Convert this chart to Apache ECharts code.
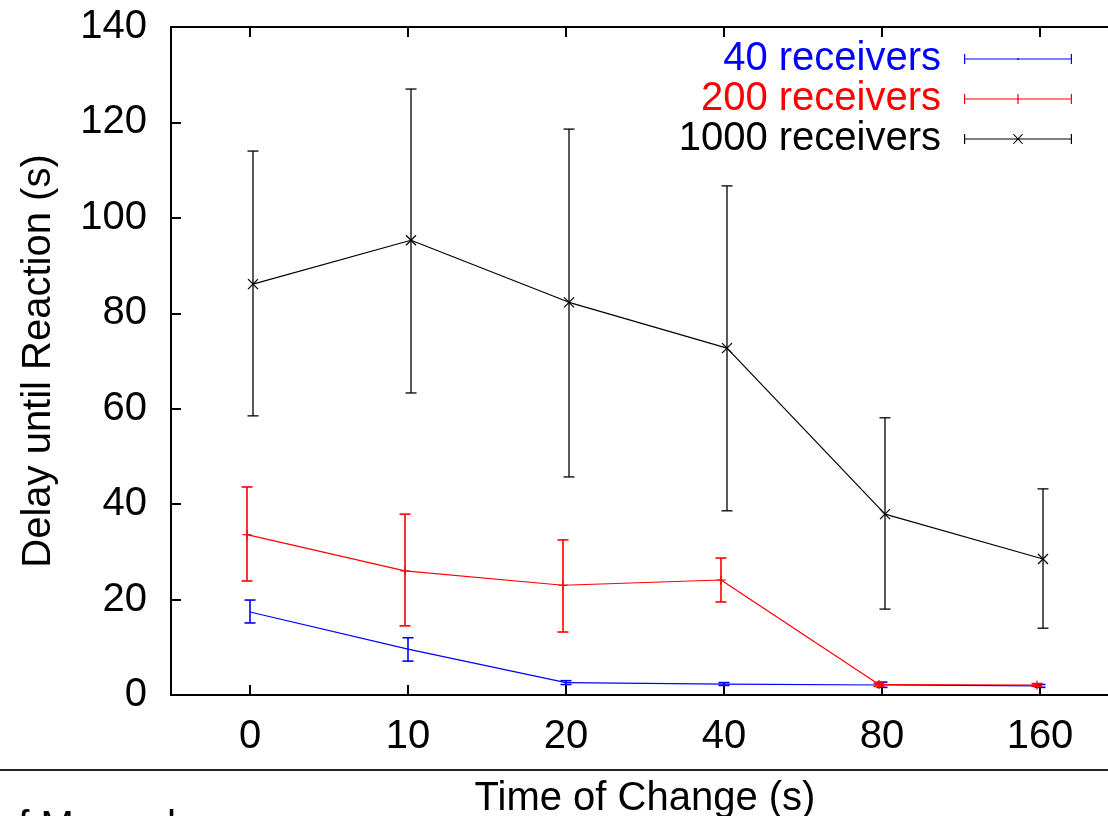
<!DOCTYPE html>
<html>
<head>
<meta charset="utf-8">
<script src="https://cdn.jsdelivr.net/npm/echarts@6/dist/echarts.min.js"></script>
<style>
html,body{margin:0;padding:0;background:#fff}
#main{width:1108px;height:816px}
</style>
</head>
<body>
<div id="main"></div>
<script>
// x categories (Time of Change) and y ticks
var categories = ['0', '10', '20', '40', '80', '160'];
var yTicks = [0, 20, 40, 60, 80, 100, 120, 140];

// 40 receivers: mean / lower / upper
var mean40 = [17.4, 9.6, 2.6, 2.3, 2.1, 1.9];
var low40 = [15.1, 7.1, 2.2, 2.0, 1.6, 1.6];
var high40 = [19.9, 12.0, 3.0, 2.6, 2.7, 2.2];
// 200 receivers
var mean200 = [33.6, 26.0, 23.0, 24.1, 2.2, 2.1];
var low200 = [23.9, 14.5, 13.2, 19.5, 1.8, 1.8];
var high200 = [43.6, 37.9, 32.5, 28.7, 2.5, 2.4];
// 1000 receivers
var mean1000 = [86.1, 95.3, 82.3, 72.7, 37.9, 28.5];
var low1000 = [58.5, 63.3, 45.7, 38.6, 18.0, 14.0];
var high1000 = [114.0, 127.0, 118.6, 106.7, 58.1, 43.2];

var FONT = '"Liberation Sans", Arial, Helvetica, sans-serif';

var myChart = echarts.init(document.getElementById('main'));

function makeRender(mean, low, high, color, offset, marker, barWidth) {
    return function (params, api) {
        var i = params.dataIndex;
        var p = api.coord([i, mean[i]]);
        var lo = api.coord([i, low[i]]);
        var hi = api.coord([i, high[i]]);
        var x = p[0] + offset;
        var st = {stroke: color, lineWidth: barWidth, fill: null};
        var children = [
            {type: 'line', shape: {x1: x, y1: lo[1], x2: x, y2: hi[1]}, style: st},
            {type: 'line', shape: {x1: x - 5.5, y1: lo[1], x2: x + 5.5, y2: lo[1]}, style: st},
            {type: 'line', shape: {x1: x - 5.5, y1: hi[1], x2: x + 5.5, y2: hi[1]}, style: st}
        ];
        if (i < mean.length - 1) {
            var q = api.coord([i + 1, mean[i + 1]]);
            children.push({type: 'line', shape: {x1: x, y1: p[1], x2: q[0] + offset, y2: q[1]},
                style: {stroke: color, lineWidth: 1.2}});
        }
        var ms = {stroke: color, lineWidth: 1.2};
        if (marker === 'plus') {
            children.push({type: 'line', shape: {x1: x - 4.5, y1: p[1], x2: x + 4.5, y2: p[1]}, style: ms});
            children.push({type: 'line', shape: {x1: x, y1: p[1] - 4.5, x2: x, y2: p[1] + 4.5}, style: ms});
        } else if (marker === 'cross') {
            children.push({type: 'line', shape: {x1: x - 5, y1: p[1] - 5, x2: x + 5, y2: p[1] + 5}, style: ms});
            children.push({type: 'line', shape: {x1: x - 5, y1: p[1] + 5, x2: x + 5, y2: p[1] - 5}, style: ms});
        }
        return {type: 'group', children: children};
    };
}

function makeData(mean, low, high) {
    return categories.map(function (c, i) {
        return [i, mean[i], low[i], high[i]];
    });
}

// legend samples: line with end caps + point marker
var baseIcon = 'M0,0H1.2V10H0Z M0,4.4H108V5.6H0Z M106.8,0H108V10H106.8Z';
var iconBlue = 'path://' + baseIcon + ' M53.4,4H54.8V6H53.4Z';
var iconRed = 'path://' + baseIcon + ' M53.4,0H54.6V10H53.4Z';
var iconBlack = 'path://' + baseIcon + ' M49,0.6L49.9,0L59,9.4L58.1,10Z M58.1,0L59,0.6L49.9,10L49,9.4Z';

var axisCommon = {
    axisLine: {show: true, lineStyle: {color: '#000', width: 2}},
    axisTick: {show: true, inside: true, length: 10, lineStyle: {color: '#000', width: 2}},
    splitLine: {show: false}
};

var option = {
    backgroundColor: '#fff',
    animation: false,
    grid: {left: 171, top: 27, right: -11, bottom: 121, outerBoundsMode: 'none', containLabel: false,
        show: true, borderColor: '#000', borderWidth: 2},
    legend: {
        orient: 'vertical',
        right: 36,
        top: 39,
        padding: 0,
        itemGap: 0,
        align: 'right',
        itemWidth: 108,
        itemHeight: 10,
        selectedMode: false,
        textStyle: {fontSize: 40, fontFamily: FONT, lineHeight: 40, padding: [0, 18, 0, 0]},
        data: [
            {name: '40 receivers', icon: iconBlue, textStyle: {color: '#0000ff'}},
            {name: '200 receivers', icon: iconRed, textStyle: {color: '#ff0000'}},
            {name: '1000 receivers', icon: iconBlack, textStyle: {color: '#000000'}}
        ]
    },
    xAxis: [
        Object.assign({}, axisCommon, {
            type: 'category',
            data: categories,
            boundaryGap: true,
            axisTick: {show: true, inside: true, length: 10, alignWithLabel: true, lineStyle: {color: '#000', width: 2}},
            axisLabel: {fontSize: 40, color: '#000', fontFamily: FONT, margin: 22},
            name: 'Time of Change (s)',
            nameLocation: 'middle',
            nameGap: 84,
            nameTextStyle: {fontSize: 40, color: '#000', fontFamily: FONT}
        }),
        Object.assign({}, axisCommon, {
            type: 'category',
            data: categories,
            position: 'top',
            boundaryGap: true,
            axisTick: {show: true, inside: true, length: 10, alignWithLabel: true, lineStyle: {color: '#000', width: 2}},
            axisLabel: {show: false}
        })
    ],
    yAxis: Object.assign({}, axisCommon, {
        type: 'value',
        min: yTicks[0],
        max: yTicks[yTicks.length - 1],
        interval: yTicks[1] - yTicks[0],
        axisLabel: {fontSize: 40, color: '#000', fontFamily: FONT, margin: 24},
        name: 'Delay until Reaction (s)',
        nameLocation: 'middle',
        nameRotate: 90,
        nameGap: 112,
        nameTextStyle: {fontSize: 40, color: '#000', fontFamily: FONT}
    }),
    graphic: [
        {type: 'line', shape: {x1: 0, y1: 770, x2: 1108, y2: 770}, style: {stroke: '#222', lineWidth: 2}},
        {type: 'text', left: -4, top: 808, style: {text: 'of Merged', font: '40px ' + FONT, fill: '#000'}}
    ],
    series: [
        {
            name: '40 receivers', type: 'custom', itemStyle: {color: '#0000ff'},
            encode: {x: 0, y: [1, 2, 3]},
            renderItem: makeRender(mean40, low40, high40, '#0000ff', 0, 'dot', 1.6),
            data: makeData(mean40, low40, high40)
        },
        {
            name: '200 receivers', type: 'custom', itemStyle: {color: '#ff0000'},
            encode: {x: 0, y: [1, 2, 3]},
            renderItem: makeRender(mean200, low200, high200, '#ff0000', -3, 'plus', 1.6),
            data: makeData(mean200, low200, high200)
        },
        {
            name: '1000 receivers', type: 'custom', itemStyle: {color: '#000000'},
            encode: {x: 0, y: [1, 2, 3]},
            renderItem: makeRender(mean1000, low1000, high1000, '#000000', 3, 'cross', 1.3),
            data: makeData(mean1000, low1000, high1000)
        }
    ]
};

myChart.setOption(option);
</script>
</body>
</html>
